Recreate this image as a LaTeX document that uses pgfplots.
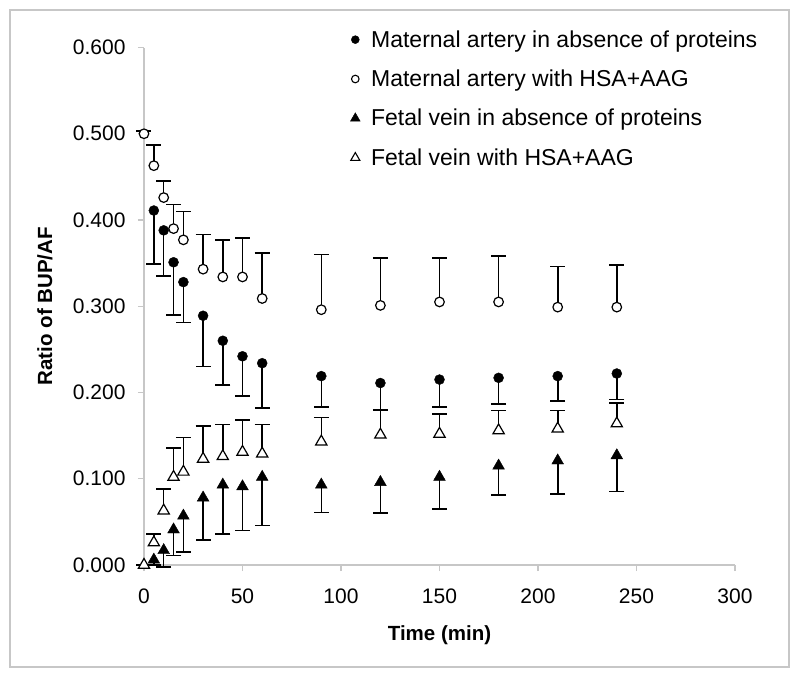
\documentclass[border=0pt]{standalone}
\usepackage{fontspec}
\setmainfont{Liberation Sans}
\usepackage{pgfplots}
\usepackage{pgfplotstable}
\pgfplotsset{compat=1.18}
\pgfplotstableread{
x y e
5 0.411 0.062
10 0.388 0.053
15 0.351 0.061
20 0.328 0.047
30 0.289 0.059
40 0.260 0.051
50 0.242 0.046
60 0.234 0.052
90 0.219 0.036
120 0.211 0.031
150 0.215 0.032
180 0.217 0.030
210 0.219 0.029
240 0.222 0.030
}\maFree
\pgfplotstableread{
x y e
0 0.500 0.003
5 0.463 0.024
10 0.426 0.019
15 0.390 0.028
20 0.377 0.033
30 0.343 0.040
40 0.334 0.043
50 0.334 0.045
60 0.309 0.053
90 0.296 0.064
120 0.301 0.055
150 0.305 0.051
180 0.305 0.053
210 0.299 0.047
240 0.299 0.049
}\maProt
\pgfplotstableread{
x y e
5 0.006 0.006
10 0.017 0.019
15 0.041 0.030
20 0.057 0.042
30 0.078 0.049
40 0.093 0.057
50 0.091 0.051
60 0.102 0.056
90 0.093 0.032
120 0.096 0.036
150 0.102 0.037
180 0.115 0.034
210 0.121 0.039
240 0.127 0.042
}\fvFree
\pgfplotstableread{
x y e
0 0.000 0.000
5 0.026 0.010
10 0.063 0.025
15 0.102 0.034
20 0.108 0.040
30 0.123 0.038
40 0.126 0.037
50 0.131 0.037
60 0.129 0.034
90 0.143 0.028
120 0.151 0.029
150 0.152 0.023
180 0.156 0.023
210 0.158 0.021
240 0.164 0.024
}\fvProt
\begin{document}
\begin{tikzpicture}
\path (-144pt,-113pt) rectangle (656pt,565pt);
\draw[black!22, line width=1.2pt] (-134pt,-102pt) rectangle (645pt,555pt);
\begin{axis}[
  scale only axis, width=591pt, height=517.5pt,
  xmin=0, xmax=300, ymin=0, ymax=0.6,
  axis x line=bottom, axis y line=left,
  axis line style={-, black!22, line width=1.3pt},
  xtick={0,50,...,300}, ytick={0,0.1,0.2,0.3,0.4,0.5,0.6},
  tick align=outside, major tick length=6pt,
  tick style={black!22, line width=1.3pt},
  tick label style={font=\fontsize{21}{24}\selectfont},
  /pgf/number format/assume math mode=true,
  yticklabel style={/pgf/number format/fixed, /pgf/number format/fixed zerofill, /pgf/number format/precision=3, xshift=-9pt},
  xticklabel style={yshift=-14pt},
  xlabel={\textbf{Time (min)}},
  ylabel={\textbf{Ratio of BUP/AF}},
  label style={font=\fontsize{20.5}{24}\selectfont},
  xlabel style={at={(axis description cs:0.5,-0.135)}, anchor=center},
  ylabel style={at={(axis description cs:-0.1675,0.5)}, anchor=center},
  clip=false,
  legend style={draw=none, fill=none, font=\fontsize{23}{27}\selectfont, at={(axis description cs:0.349,1.037)}, anchor=north west, row sep=17.2pt, column sep=9pt, inner sep=0pt},
  legend cell align=left,
  legend image code/.code={\draw[#1] plot coordinates {(0pt,0pt)};},
  ebar/.style={forget plot, only marks, mark=none, draw=black, line width=1.6pt,
    error bars/.cd, y explicit, y dir=#1,
    error bar style={line width=1.6pt, draw=black},
    error mark options={mark size=7.5pt, line width=1.6pt, draw=black, rotate=90}},
]
\addlegendimage{only marks, mark=*, mark size=4pt, mark options={fill=black}}
\addlegendentry{Maternal artery in absence of proteins}
\addlegendimage{only marks, mark=*, mark size=3.8pt, mark options={fill=white, draw=black, line width=1.1pt}}
\addlegendentry{Maternal artery with HSA+AAG}
\addlegendimage{only marks, mark=triangle*, mark size=5.6pt, mark options={fill=black}}
\addlegendentry{Fetal vein in absence of proteins}
\addlegendimage{only marks, mark=triangle*, mark size=5.2pt, mark options={fill=white, line width=1.1pt}}
\addlegendentry{Fetal vein with HSA+AAG}
% error bars
\addplot[ebar=minus] table[x=x, y=y, y error=e] {\maFree};
\addplot[ebar=plus] table[x=x, y=y, y error=e] {\maProt};
\addplot[ebar=minus] table[x=x, y=y, y error=e] {\fvFree};
\addplot[ebar=plus] table[x=x, y=y, y error=e] {\fvProt};
% markers
\addplot[forget plot, only marks, mark=*, mark size=5pt, mark options={fill=black, draw=black}] table[x=x, y=y] {\maFree};
\addplot[forget plot, only marks, mark=*, mark size=4.8pt, mark options={fill=white, draw=black, line width=1.2pt}] table[x=x, y=y] {\maProt};
\addplot[forget plot, only marks, mark=triangle*, mark size=6.8pt, mark options={fill=black, draw=black}] table[x=x, y=y] {\fvFree};
\addplot[forget plot, only marks, mark=triangle*, mark size=6.5pt, mark options={fill=white, draw=black, line width=1.2pt}] table[x=x, y=y] {\fvProt};
\end{axis}
\end{tikzpicture}
\end{document}
